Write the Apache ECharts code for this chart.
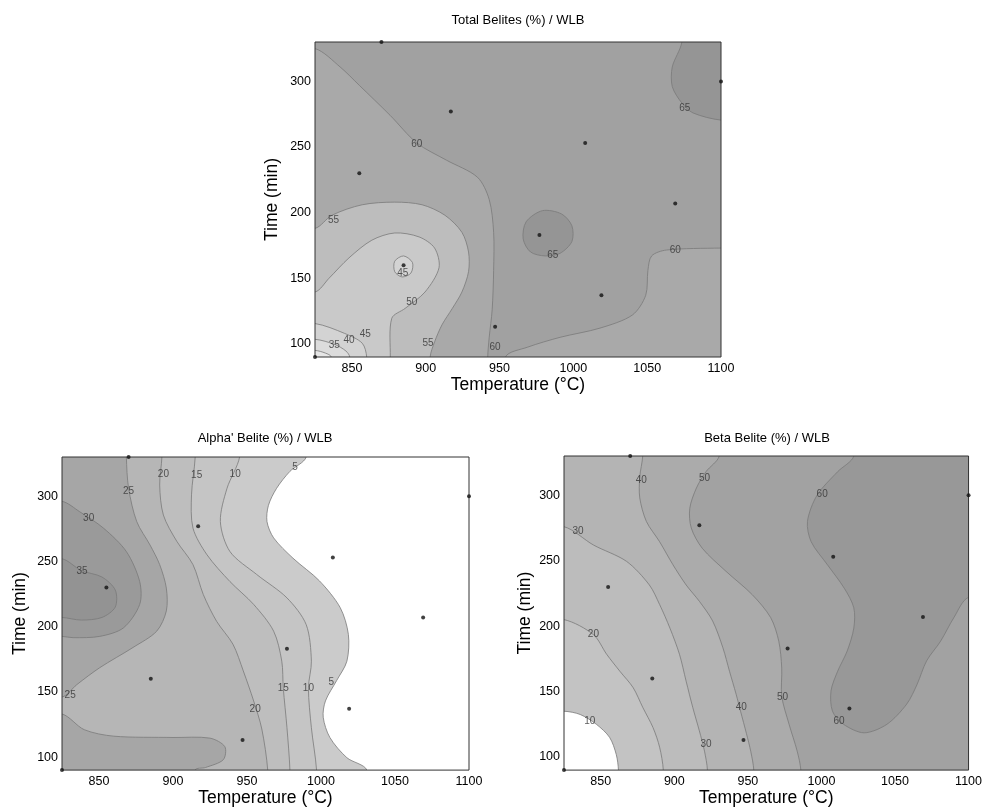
<!DOCTYPE html>
<html><head><meta charset="utf-8">
<script src="https://cdn.jsdelivr.net/npm/echarts@6/dist/echarts.min.js"></script>
<style>html,body{margin:0;padding:0;background:#fff}#c{width:985px;height:808px}</style>
</head><body><div id="c"></div>
<script>
// ---------- data ----------
const xTicks = [850, 900, 950, 1000, 1050, 1100];
const yTicks = [100, 150, 200, 250, 300];
const titles = ['Total Belites (%) / WLB', "Alpha' Belite (%) / WLB", 'Beta Belite (%) / WLB'];
const xName = 'Temperature (°C)';
const yName = 'Time (min)';
// experimental design points [temperature, time]
const samplePoints = [[825,90],[870,330],[1100,300],[917,277],[1008,253],[855,230],[1069,207],[977,183],[885,160],[1019,137],[947,113]];

// Total belites contours [temperature, time]
const total_c60a = [[825,325],[842,311],[855,297],[876,274],[894,253],[914,240],[935,227],[943,210],[946,185],[946,156],[945,126],[943,105],[942,90]];
const total_c60b = [[954,90],[969,97.5],[991,105],[1018,112],[1040,122],[1049,137],[1050.5,156],[1053,167],[1063,171.5],[1100,173]];
const total_c65a = [[979,201.5],[992,199],[999,190],[999,178],[991,169],[981,167],[971,170],[966,180],[968,193]];
const total_c65b = [[1073.5,330],[1067,311],[1067,296],[1073.5,283.5],[1081,276],[1100,270.5]];
const total_c55 = [[825,188],[836.5,198],[857,206],[879,208],[897.5,206],[913,198],[924.5,185],[929,170],[929,155],[924.5,139.5],[918,127],[911,114.5],[906,101.5],[903,90]];
const total_c50 = [[876,90],[877,119.5],[886,127],[899.5,139.5],[909,158],[906,173],[895.5,181.5],[879,184.5],[863.5,179],[848,165.5],[834.5,150],[825,139.5]];
const total_c45a = [[885,167],[891,162],[890,154],[884,151],[879,155],[879,163]];
const total_c45b = [[825,115.5],[845,108],[857,100.5],[860,90]];
const total_c40 = [[825,103.5],[838.5,99.5],[846,94.5],[848.5,90]];
const total_c35 = [[825,95],[832,93],[836,90]];
const total_labels = [[894,252,'60'],[837.5,194.5,'55'],[884.5,154,'45'],[890.5,132,'50'],[838,99,'35'],[848,103,'40'],[859,107,'45'],[901.5,100.5,'55'],[947,97.5,'60'],[986,167.5,'65'],[1069,171.5,'60'],[1075.5,279.5,'65']];

// Alpha' belite contours
const alpha_c5 = [[990,330],[979,319],[970,306],[964.5,293],[963.5,280.5],[968,268],[981,252.5],[999,235],[1013,214.5],[1018.5,194],[1017.5,173.5],[1010.5,158.5],[1003,143],[1001.5,130.5],[1006,115],[1017.5,99.5],[1031,90]];
const alpha_c10 = [[945,330],[936.5,306],[932,280.5],[938.5,257.5],[956.5,240],[977,222],[990,201.5],[993.5,173.5],[991.5,153],[993.5,122.5],[997,90]];
const alpha_c15 = [[915,330],[912.5,301],[913.5,275.5],[923,255],[938.5,234.5],[954.5,217],[968,196.5],[973.5,173.5],[974.5,153],[977,122.5],[979,90]];
const alpha_c20 = [[892.5,330],[891,308.5],[893.5,285.5],[902.5,265.5],[913.5,247.5],[920.5,224.5],[929.5,204],[940.5,186.5],[947.5,166],[954.5,143],[960,121.5],[964,90]];
const alpha_c25a = [[868.5,330],[870,306],[875.5,280.5],[884.5,262.5],[891,247.5],[895.5,229.5],[895.5,212],[889,196.5],[873,184],[850.5,168.5],[835,155.5],[825,146]];
const alpha_c25b = [[825,133],[840,121],[860,116],[900,115],[925,114.5],[935,108],[934,98],[922,92],[915,90]];
const alpha_c30 = [[825,296],[837,288],[853,275.5],[868.5,257.5],[877.5,234.5],[877.5,217],[866.5,199],[850.5,192.5],[832.5,191.5],[825,192.5]];
const alpha_c35 = [[825,252],[838,243],[852,238],[861,228],[861,215],[852,207],[838,205],[825,207]];
const alpha_labels = [[843,283,'30'],[838.5,242.5,'35'],[870,303.5,'25'],[830.5,147,'25'],[893.5,317,'20'],[916,316,'15'],[942,317,'10'],[982.5,322.5,'5'],[955.5,136.5,'20'],[974.5,153,'15'],[991.5,153,'10'],[1007,157,'5']];

// Beta belite contours
const beta_c10 = [[825,135],[836,132.5],[847,125],[856,115],[860.5,102],[862,90]];
const beta_c20 = [[825,205],[845,193.5],[854,178.5],[863,165.5],[872,153],[878.5,138],[885.5,122.5],[890,107.5],[892.5,90]];
const beta_c30 = [[825,276],[845,262],[867.5,249.5],[883,231.5],[890,216.5],[897,198.5],[903.5,178.5],[908,158],[912.5,138],[917,120],[920.5,104.5],[922.5,90]];
const beta_c40 = [[878.5,330],[876.5,314],[876.5,298],[881,280],[890,264.5],[899,247],[908,231.5],[917,219],[926,204],[933,183.5],[937.5,165.5],[942,148],[945,135],[949,118],[952,104],[954,90]];
const beta_c50 = [[930.5,330],[921.5,318],[915,305.5],[910.5,290],[911.5,275],[919,259.5],[935,242],[953,224],[965.5,206.5],[971,188.5],[973,168],[973,146.5],[978,125],[983.5,104.5],[986,90]];
const beta_c60 = [[1022,330],[1011,318],[997,300],[990.5,280],[993,264.5],[1004,247],[1015.5,229],[1022,214],[1022,198.5],[1017.5,181],[1011,165.5],[1006.5,150.5],[1007.5,135],[1015,125],[1029,118.5],[1044.5,125],[1058,140.5],[1065,155.5],[1071.5,173.5],[1081,188.5],[1090,206.5],[1100,222]];
const beta_labels = [[877.5,311.5,'40'],[920.5,313,'50'],[1000.5,300.5,'60'],[834.5,272.5,'30'],[845,193.5,'20'],[842.5,127.5,'10'],[945.5,138,'40'],[973.5,145.5,'50'],[921.5,110,'30'],[1012,127.5,'60']];

// ---------- styling ----------
const FONT = "'Liberation Sans', Arial, Helvetica, sans-serif";
const LINE = '#7a7a7a';
const totalColors = {'<35':'#e6e6e6','35-40':'#dcdcdc','40-45':'#d3d3d3','45-50':'#c9c9c9','50-55':'#bdbdbd','55-60':'#a9a9a9','60-65':'#a1a1a1','>65':'#959595'};
const alphaColors = {'<5':'#ffffff','5-10':'#cbcbcb','10-15':'#c5c5c5','15-20':'#bebebe','20-25':'#b6b6b6','25-30':'#a6a6a6','30-35':'#9a9a9a','>35':'#939393'};
const betaColors = {'<10':'#ffffff','10-20':'#c3c3c3','20-30':'#bcbcbc','30-40':'#b4b4b4','40-50':'#ababab','50-60':'#a2a2a2','>60':'#989898'};

const totalRegions = [
  {bg:true, color: totalColors['60-65']},
  {pts: total_c60a, close:['BL'], color: totalColors['55-60']},
  {pts: total_c60b, close:['BR'], color: totalColors['55-60']},
  {pts: total_c65a, loop:true, color: totalColors['>65']},
  {pts: total_c65b, close:['TR'], color: totalColors['>65']},
  {pts: total_c55, close:['BL'], color: totalColors['50-55']},
  {pts: total_c50, close:['BL'], color: totalColors['45-50']},
  {pts: total_c45a, loop:true, color: totalColors['40-45']},
  {pts: total_c45b, close:['BL'], color: totalColors['40-45']},
  {pts: total_c40, close:['BL'], color: totalColors['35-40']},
  {pts: total_c35, close:['BL'], color: totalColors['<35']}
];
const alphaRegions = [
  {bg:true, color: alphaColors['<5']},
  {pts: alpha_c5, close:['BL','TL'], color: alphaColors['5-10']},
  {pts: alpha_c10, close:['BL','TL'], color: alphaColors['10-15']},
  {pts: alpha_c15, close:['BL','TL'], color: alphaColors['15-20']},
  {pts: alpha_c20, close:['BL','TL'], color: alphaColors['20-25']},
  {pts: alpha_c25a, close:['TL'], color: alphaColors['25-30']},
  {pts: alpha_c25b, close:['BL'], color: alphaColors['25-30']},
  {pts: alpha_c30, close:[], color: alphaColors['30-35']},
  {pts: alpha_c35, close:[], color: alphaColors['>35']}
];
const betaRegions = [
  {bg:true, color: betaColors['10-20']},
  {pts: beta_c20, close:['BR','TR','TL'], color: betaColors['20-30']},
  {pts: beta_c30, close:['BR','TR','TL'], color: betaColors['30-40']},
  {pts: beta_c40, close:['BR','TR'], color: betaColors['40-50']},
  {pts: beta_c50, close:['BR','TR'], color: betaColors['50-60']},
  {pts: beta_c60, close:['TR'], color: betaColors['>60']},
  {pts: beta_c10, close:['BL'], color: betaColors['<10']}
];

function regionSeries(g, regions) {
  return {
    type: 'custom', xAxisIndex: g, yAxisIndex: g, coordinateSystem: 'cartesian2d',
    silent: true, z: 2,
    data: regions.map((r, i) => [825, 90, i]),
    encode: {x: 0, y: 1},
    renderItem: function (params, api) {
      const r = regions[params.dataIndex];
      const cs = params.coordSys;
      const clip = {type: 'rect', shape: {x: cs.x, y: cs.y, width: cs.width, height: cs.height}};
      if (r.bg) {
        return {type: 'rect', shape: {x: cs.x, y: cs.y, width: cs.width, height: cs.height}, style: {fill: r.color}};
      }
      const pts = r.pts.map(p => api.coord(p));
      let poly;
      if (r.loop) {
        poly = pts;
      } else {
        const M = 40;
        const L = cs.x, R = cs.x + cs.width, T = cs.y, B = cs.y + cs.height;
        const outP = p => {
          const d = [p[0] - L, R - p[0], p[1] - T, B - p[1]];
          const m = Math.min.apply(null, d);
          if (m === d[0]) return [L - M, p[1]];
          if (m === d[1]) return [R + M, p[1]];
          if (m === d[2]) return [p[0], T - M];
          return [p[0], B + M];
        };
        const corner = {TL: [L - M, T - M], TR: [R + M, T - M], BL: [L - M, B + M], BR: [R + M, B + M]};
        poly = pts.concat([outP(pts[pts.length - 1])], r.close.map(k => corner[k]), [outP(pts[0])]);
      }
      return {
        type: 'group', clipPath: clip,
        children: [{type: 'polygon', shape: {points: poly, smooth: 0.3},
          style: {fill: r.color, stroke: LINE, lineWidth: 0.8}}]
      };
    }
  };
}

function pointSeries(g) {
  return {type: 'scatter', xAxisIndex: g, yAxisIndex: g, data: samplePoints, symbolSize: 4,
    itemStyle: {color: '#111'}, silent: true, z: 7, clip: false};
}
function labelSeries(g, labels) {
  return {type: 'scatter', xAxisIndex: g, yAxisIndex: g, data: labels, symbolSize: 1,
    itemStyle: {color: 'rgba(0,0,0,0)'}, silent: true, z: 8, clip: false,
    label: {show: true, position: 'inside', formatter: p => p.value[2], fontSize: 10, color: '#333', fontFamily: FONT}};
}

const grids = [
  {left: 315, top: 42, width: 406, height: 315},
  {left: 62, top: 457, width: 407, height: 314},
  {left: 564, top: 456, width: 406, height: 315}
];
const yNameGaps = [34, 33, 30];
const xNameGaps = [19, 18, 18];
const titlePos = [[518, 14], [265, 432], [767, 432]];

const option = {
  animation: false,
  backgroundColor: '#ffffff',
  title: titles.map((t, i) => ({text: t, left: titlePos[i][0], top: titlePos[i][1], textAlign: 'center', padding: 0,
    textStyle: {fontSize: 13, fontWeight: 'normal', color: '#000', fontFamily: FONT}})),
  grid: grids.map(g => Object.assign({show: true, borderColor: '#333', borderWidth: 1, backgroundColor: 'transparent', z: 5}, g)),
  xAxis: grids.map((g, i) => ({
    gridIndex: i, type: 'value', min: 825, max: 1100, interval: 25,
    name: xName, nameLocation: 'middle', nameGap: xNameGaps[i],
    nameTextStyle: {fontSize: 17.5, color: '#000', fontFamily: FONT},
    axisLabel: {formatter: v => xTicks.includes(v) ? String(v) : '', fontSize: 12.5, color: '#000', margin: 5, fontFamily: FONT},
    axisTick: {show: false}, axisLine: {show: false}, splitLine: {show: false}
  })),
  yAxis: grids.map((g, i) => ({
    gridIndex: i, type: 'value', min: 90, max: 330, interval: 10,
    name: yName, nameLocation: 'middle', nameGap: yNameGaps[i],
    nameTextStyle: {fontSize: 17.5, color: '#000', fontFamily: FONT},
    axisLabel: {formatter: v => yTicks.includes(v) ? String(v) : '', fontSize: 12.5, color: '#000', margin: 4, fontFamily: FONT},
    axisTick: {show: false}, axisLine: {show: false}, splitLine: {show: false}
  })),
  series: [
    regionSeries(0, totalRegions), pointSeries(0), labelSeries(0, total_labels),
    regionSeries(1, alphaRegions), pointSeries(1), labelSeries(1, alpha_labels),
    regionSeries(2, betaRegions), pointSeries(2), labelSeries(2, beta_labels)
  ]
};
echarts.init(document.getElementById('c'), null, {renderer: 'canvas'}).setOption(option);
</script></body></html>
